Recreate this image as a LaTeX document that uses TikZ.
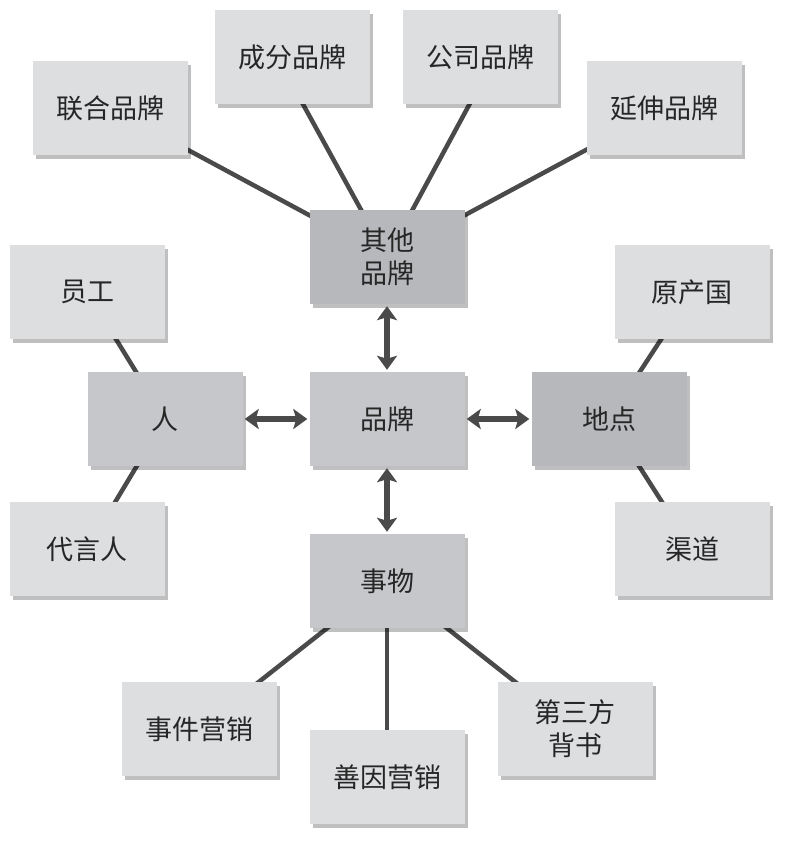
\documentclass[tikz,border=0pt]{standalone}
\usepackage{fontspec}
\setmainfont{Noto Sans CJK SC}
\usetikzlibrary{arrows.meta,shadows,backgrounds}
\begin{document}
\begin{tikzpicture}[x=1pt,y=-1pt,
  box/.style={minimum width=155pt,minimum height=94pt,inner sep=0pt,align=center,
    font=\fontsize{27}{33}\selectfont,text=black!85,
    drop shadow={shadow xshift=3pt,shadow yshift=-4pt,opacity=0.25,fill=black}},
  light/.style={box,fill=lgray},
  mid/.style={box,fill=mgray},
  dark/.style={box,fill=dgray},
  link/.style={draw=lcol,line width=4.5pt},
  biarrow/.style={draw=lcol,line width=5.5pt,{Stealth[length=14pt,width=20pt,inset=3pt]}-{Stealth[length=14pt,width=20pt,inset=3pt]},shorten <=2pt,shorten >=2pt}]
\definecolor{lgray}{HTML}{DCDEE0}
\definecolor{mgray}{HTML}{C5C7CA}
\definecolor{dgray}{HTML}{B6B8BB}
\definecolor{lcol}{HTML}{4A4A4A}
\useasboundingbox (0,0) rectangle (789,845);
\node[light] (lh) at (110,108) {联合品牌};
\node[light] (cf) at (292,57) {成分品牌};
\node[light] (gs) at (480,57) {公司品牌};
\node[light] (ys) at (664,108) {延伸品牌};
\node[dark] (qt) at (387,257) {其他\\品牌};
\node[light] (yg) at (87,292) {员工};
\node[light] (ycg) at (692,292) {原产国};
\node[mid] (ren) at (165,419) {人};
\node[mid] (pp) at (387,419) {品牌};
\node[dark] (dd) at (609,419) {地点};
\node[light] (dyr) at (87,549) {代言人};
\node[light] (qd) at (692,549) {渠道};
\node[mid] (sw) at (387,581) {事物};
\node[light] (sj) at (199,729) {事件营销};
\node[light] (sy) at (387,777) {善因营销};
\node[light] (ds) at (575,729) {第三方\\背书};
\begin{scope}[on background layer]
\draw[link] (lh.center) -- (qt.center);
\draw[link] ([xshift=-15pt]cf.center) -- (qt.center);
\draw[link] ([xshift=15pt]gs.center) -- (qt.center);
\draw[link] (ys.center) -- (qt.center);
\draw[link] (yg.center) -- (ren.center);
\draw[link] (dyr.center) -- (ren.center);
\draw[link] (ycg.center) -- (dd.center);
\draw[link] (qd.center) -- (dd.center);
\draw[link] (sj.center) -- (sw.center);
\draw[link] (sy.center) -- (sw.center);
\draw[link] (ds.center) -- (sw.center);
\end{scope}
\draw[biarrow] (qt.south) -- (pp.north);
\draw[biarrow] (pp.south) -- (sw.north);
\draw[biarrow] (pp.west) -- (ren.east);
\draw[biarrow] (pp.east) -- (dd.west);
\end{tikzpicture}
\end{document}
